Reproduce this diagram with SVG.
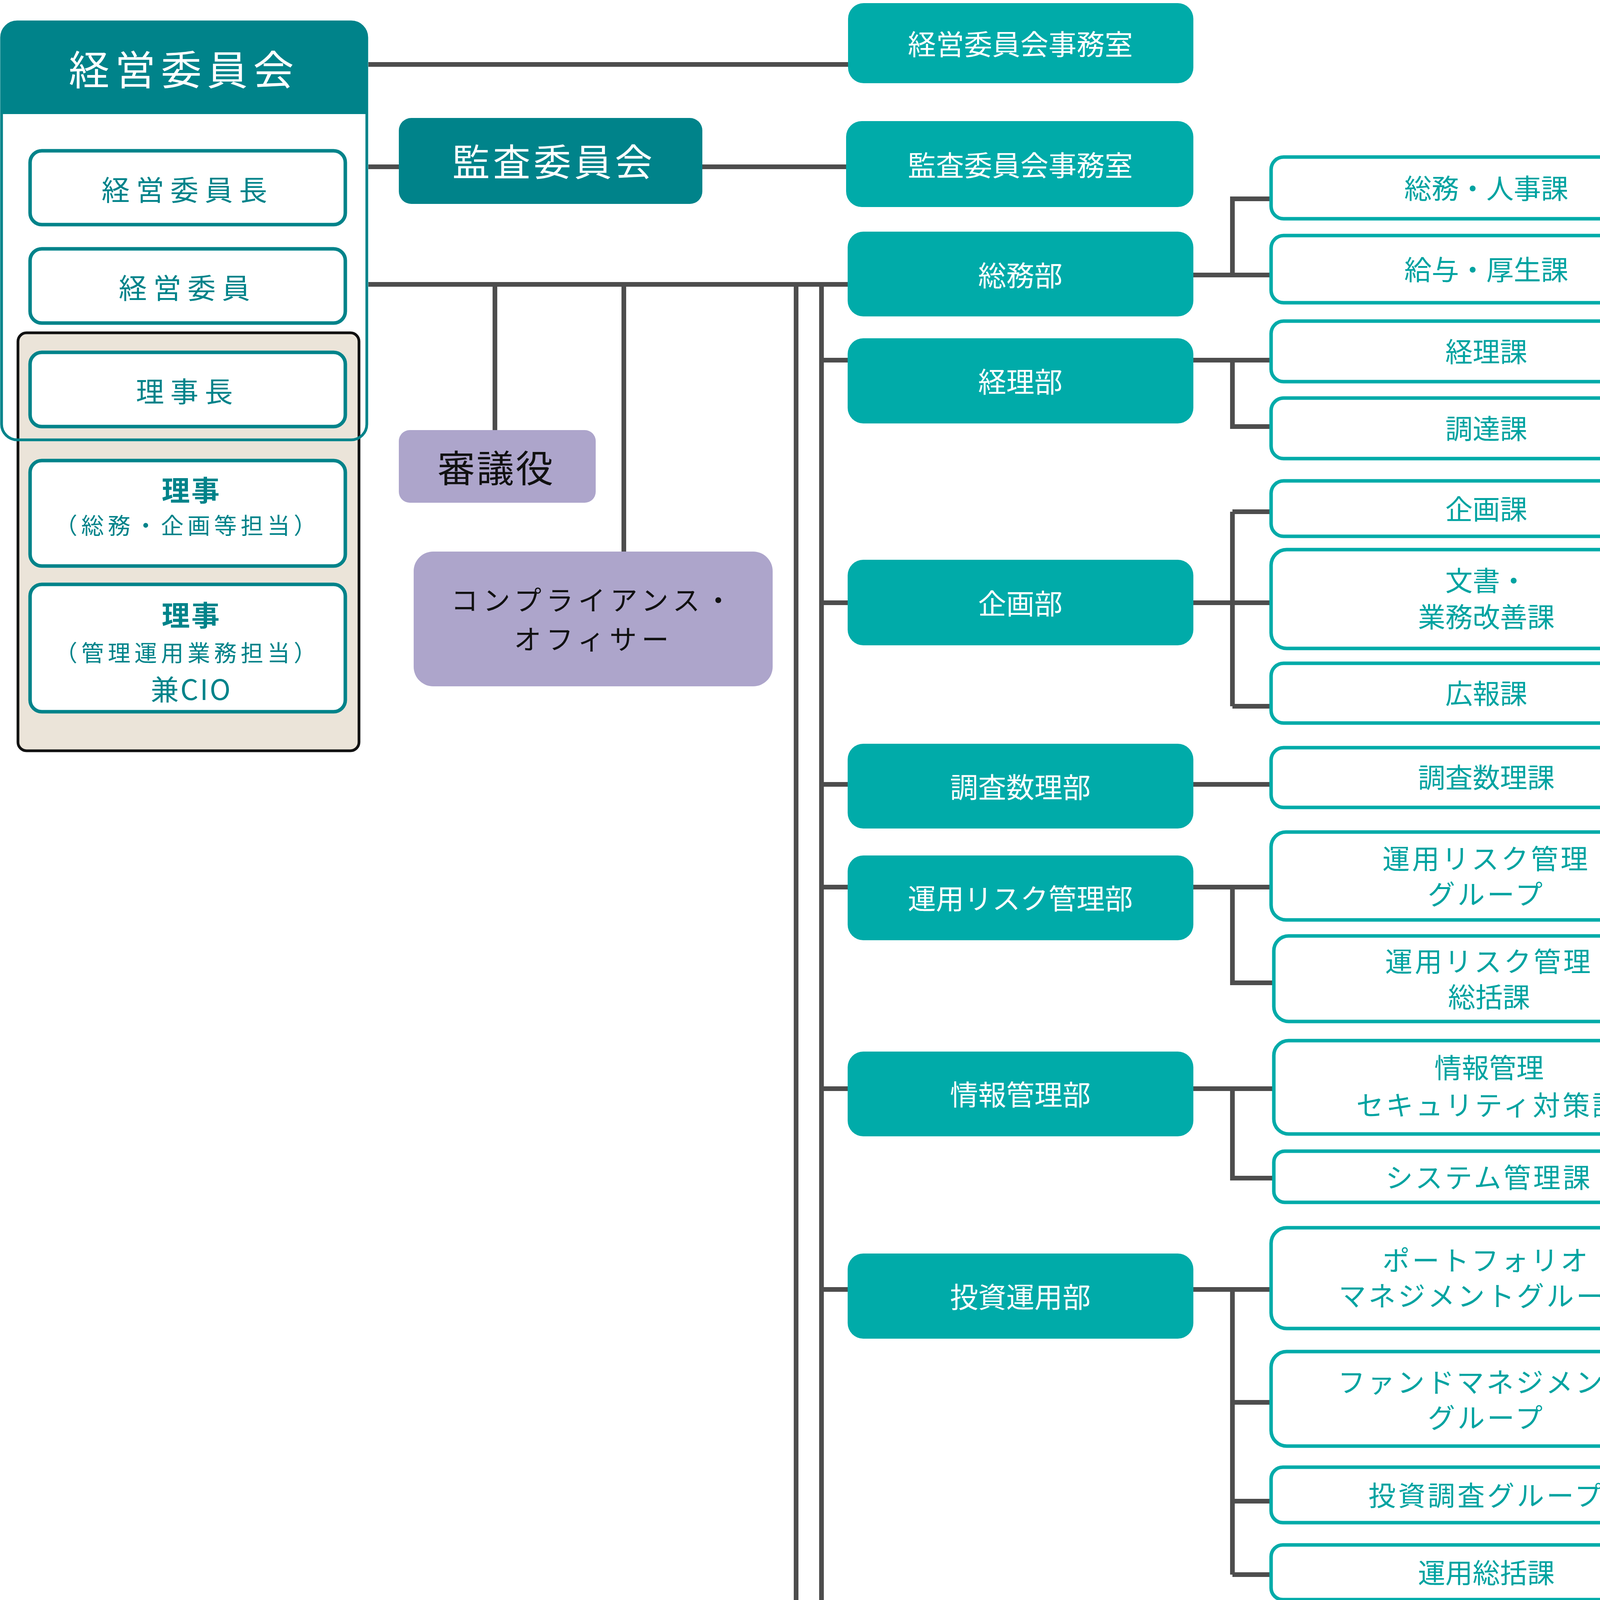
<svg xmlns="http://www.w3.org/2000/svg" width="4368" height="6680" viewBox="0 0 4368 6680">
<style>
text{font-family:"Noto Sans CJK JP","Noto Sans",sans-serif;text-anchor:middle;dominant-baseline:central}
.dept rect{fill:#00ABA9}
.dept text{fill:#fff;font-size:72px}
.sub rect{fill:#fff;stroke:#00ABA9;stroke-width:9}
.sub text{fill:#00A3A1;font-size:70px}
.wm rect{fill:#fff;stroke:#00838A;stroke-width:9}
.wm text{fill:#00838A;font-size:72px;letter-spacing:16px}
.pur rect{fill:#ADA5CB}
.pur text{fill:#111}
.ks{letter-spacing:6px}
</style>
<g id="connectors" fill="none" stroke="#4D4D4D" stroke-width="12">
<path d="M943 165H2171M943 427H1021M1798 427H2166M943 728H2170M1267 728V1101M1597 728V1412M2038 728V6548M2103 728V5898"/>
<path d="M2103 922H2170M2103 1543H2170M2103 2008H2170M2103 2271H2170M2103 2787H2170M2103 3301H2170M2103 4235H2170M2103 4870H2170M2103 5898H2170M2038 6272H2170M2038 6548H2170"/>
<path d="M3055 704H3254M3155 704V509H3254"/>
<path d="M3055 922H3254M3155 922V1092H3254"/>
<path d="M3055 1543H3254M3155 1310V1808M3155 1310H3254M3155 1808H3254"/>
<path d="M3055 2008H3254"/>
<path d="M3055 2271H3254M3155 2271V2516H3261"/>
<path d="M3055 2787H3261M3155 2787V3016H3261"/>
<path d="M3055 3301H3254M3155 3301V4031M3155 3590H3254M3155 3843H3254M3155 4031H3254"/>
<path d="M3055 4235H3254M3155 4235V4528H3254"/>
<path d="M3055 4865H3254M3155 4865V5614M3155 5090H3254M3155 5350H3254M3155 5614H3254"/>
<path d="M3055 5898H3254M3155 5898V6296M3155 6063H3254M3155 6296H3254"/>
</g>
<g id="board">
<rect x="46" y="852" width="873" height="1070" rx="22" fill="#EBE4D9" stroke="#111" stroke-width="7"/>
<rect x="4" y="56" width="935" height="1070" rx="40" fill="none" stroke="#00838A" stroke-width="7"/>
<path d="M4 292V96Q4 56 44 56H899Q939 56 939 96V292Z" fill="#00838A"/>
<text x="471" y="172" fill="#fff" font-size="104" letter-spacing="14">経営委員会</text>
</g>
<g id="n-chair" class="wm"><rect x="77" y="386" width="807" height="189" rx="30"/><text x="480" y="481">経営委員長</text></g>
<g id="n-member" class="wm"><rect x="77" y="637" width="807" height="190" rx="30"/><text x="480" y="732">経営委員</text></g>
<g id="n-president" class="wm"><rect x="77" y="902" width="807" height="190" rx="30"/><text x="480" y="997">理事長</text></g>
<g id="n-director1" class="wm"><rect x="77" y="1179" width="807" height="270" rx="30"/><text x="490" y="1250" font-weight="bold" style="letter-spacing:4px">理事</text><text x="480" y="1342" style="font-size:58px;letter-spacing:10px">（総務・企画等担当）</text></g>
<g id="n-director2" class="wm"><rect x="77" y="1496" width="807" height="326" rx="30"/><text x="490" y="1570" font-weight="bold" style="letter-spacing:4px">理事</text><text x="480" y="1668" style="font-size:58px;letter-spacing:10px">（管理運用業務担当）</text><text x="490" y="1760" style="letter-spacing:4px">兼CIO</text></g>
<g id="n-audit"><rect x="1021" y="302" width="777" height="220" rx="32" fill="#00838A"/><text x="1418" y="408" fill="#fff" font-size="96" letter-spacing="8">監査委員会</text></g>
<g id="n-shingi" class="pur"><rect x="1021" y="1101" width="504" height="186" rx="28"/><text x="1270" y="1192" font-size="96" letter-spacing="4">審議役</text></g>
<g id="n-compliance" class="pur"><rect x="1059" y="1412" width="919" height="345" rx="50"/><text x="1520" y="1532" font-size="70" letter-spacing="12">コンプライアンス・</text><text x="1520" y="1632" font-size="70" letter-spacing="12">オフィサー</text></g>
<g id="d1" class="dept"><rect x="2171" y="8" width="884" height="205" rx="40"/><text x="2612" y="108">経営委員会事務室</text></g>
<g id="d2" class="dept"><rect x="2166" y="310" width="889" height="220" rx="40"/><text x="2612" y="418">監査委員会事務室</text></g>
<g id="d3" class="dept"><rect x="2170" y="593" width="885" height="217" rx="40"/><text x="2612" y="700">総務部</text></g>
<g id="d4" class="dept"><rect x="2170" y="866" width="885" height="218" rx="40"/><text x="2612" y="972">経理部</text></g>
<g id="d5" class="dept"><rect x="2170" y="1433" width="885" height="219" rx="40"/><text x="2612" y="1540">企画部</text></g>
<g id="d6" class="dept"><rect x="2170" y="1904" width="885" height="217" rx="40"/><text x="2612" y="2010">調査数理部</text></g>
<g id="d7" class="dept"><rect x="2170" y="2190" width="885" height="217" rx="40"/><text x="2612" y="2295">運用リスク管理部</text></g>
<g id="d8" class="dept"><rect x="2170" y="2692" width="885" height="217" rx="40"/><text x="2612" y="2797">情報管理部</text></g>
<g id="d9" class="dept"><rect x="2170" y="3209" width="885" height="218" rx="40"/><text x="2612" y="3315">投資運用部</text></g>
<g id="d10" class="dept"><rect x="2170" y="4125" width="885" height="342" rx="50"/><text x="2612" y="4245" class="ks">ESG・スチュワード</text><text x="2612" y="4340">シップ推進部</text></g>
<g id="d11" class="dept"><rect x="2170" y="4722" width="885" height="345" rx="50"/><text x="2612" y="4842" class="ks">オルタナティブ</text><text x="2612" y="4937">投資部</text></g>
<g id="d12" class="dept"><rect x="2170" y="5806" width="885" height="216" rx="40"/><text x="2612" y="5910">運用管理部</text></g>
<g id="d13" class="dept"><rect x="2170" y="6198" width="885" height="217" rx="40"/><text x="2612" y="6303">法務室</text></g>
<g id="d14" class="dept"><rect x="2170" y="6461" width="885" height="219" rx="40"/><text x="2612" y="6565">監査室</text></g>
<g id="s1" class="sub"><rect x="3254" y="402" width="1102" height="158" rx="32"/><text x="3805" y="478">総務・人事課</text></g>
<g id="s2" class="sub"><rect x="3254" y="603" width="1102" height="172" rx="32"/><text x="3805" y="686">給与・厚生課</text></g>
<g id="s3" class="sub"><rect x="3254" y="822" width="1102" height="155" rx="32"/><text x="3805" y="896">経理課</text></g>
<g id="s4" class="sub"><rect x="3254" y="1019" width="1102" height="155" rx="32"/><text x="3805" y="1093">調達課</text></g>
<g id="s5" class="sub"><rect x="3254" y="1231" width="1102" height="142" rx="32"/><text x="3805" y="1299">企画課</text></g>
<g id="s6" class="sub"><rect x="3254" y="1407" width="1102" height="253" rx="40"/><text x="3805" y="1482">文書・</text><text x="3805" y="1575">業務改善課</text></g>
<g id="s7" class="sub"><rect x="3254" y="1698" width="1102" height="153" rx="32"/><text x="3805" y="1771">広報課</text></g>
<g id="s8" class="sub"><rect x="3254" y="1914" width="1102" height="153" rx="32"/><text x="3805" y="1986">調査数理課</text></g>
<g id="s9" class="sub"><rect x="3254" y="2130" width="1102" height="225" rx="38"/><text x="3805" y="2194" class="ks">運用リスク管理</text><text x="3805" y="2285" class="ks">グループ</text></g>
<g id="s10" class="sub"><rect x="3261" y="2396" width="1103" height="219" rx="38"/><text x="3812" y="2457" class="ks">運用リスク管理</text><text x="3812" y="2548">総括課</text></g>
<g id="s11" class="sub"><rect x="3261" y="2664" width="1103" height="239" rx="38"/><text x="3812" y="2729">情報管理</text><text x="3812" y="2825" class="ks">セキュリティ対策課</text></g>
<g id="s12" class="sub"><rect x="3261" y="2947" width="1103" height="131" rx="28"/><text x="3812" y="3010" class="ks">システム管理課</text></g>
<g id="s13" class="sub"><rect x="3254" y="3143" width="1102" height="258" rx="40"/><text x="3805" y="3222" class="ks">ポートフォリオ</text><text x="3805" y="3313" class="ks">マネジメントグループ</text></g>
<g id="s14" class="sub"><rect x="3254" y="3460" width="1102" height="242" rx="40"/><text x="3805" y="3534" class="ks">ファンドマネジメント</text><text x="3805" y="3625" class="ks">グループ</text></g>
<g id="s15" class="sub"><rect x="3254" y="3756" width="1102" height="142" rx="30"/><text x="3805" y="3824" class="ks">投資調査グループ</text></g>
<g id="s16" class="sub"><rect x="3254" y="3955" width="1102" height="140" rx="30"/><text x="3805" y="4022">運用総括課</text></g>
<g id="s17" class="sub"><rect x="3254" y="4146" width="1102" height="234" rx="38"/><text x="3805" y="4218" class="ks">ESG・スチュワード</text><text x="3805" y="4308" class="ks">シップ推進グループ</text></g>
<g id="s18" class="sub"><rect x="3254" y="4429" width="1102" height="219" rx="38"/><text x="3805" y="4494" class="ks">ESG・スチュワード</text><text x="3805" y="4584" class="ks">シップ総括課</text></g>
<g id="s19" class="sub"><rect x="3254" y="4697" width="1102" height="247" rx="40"/><text x="3805" y="4772" class="ks">インフラストラクチャー</text><text x="3805" y="4864" class="ks">投資グループ</text></g>
<g id="s20" class="sub"><rect x="3254" y="5005" width="1102" height="148" rx="30"/><text x="3805" y="5078" class="ks">不動産投資グループ</text></g>
<g id="s21" class="sub"><rect x="3254" y="5219" width="1102" height="230" rx="38"/><text x="3805" y="5288" class="ks">プライベートエクイティ</text><text x="3805" y="5378" class="ks">投資グループ</text></g>
<g id="s22" class="sub"><rect x="3254" y="5512" width="1102" height="222" rx="38"/><text x="3805" y="5577" class="ks">オルタナティブ</text><text x="3805" y="5668">投資総括課</text></g>
<g id="s23" class="sub"><rect x="3254" y="5795" width="1102" height="131" rx="28"/><text x="3805" y="5860">資産管理課</text></g>
<g id="s24" class="sub"><rect x="3254" y="5989" width="1102" height="131" rx="28"/><text x="3805" y="6054">資金業務課</text></g>
<g id="s25" class="sub"><rect x="3254" y="6193" width="1102" height="150" rx="30"/><text x="3805" y="6268">運用管理総括課</text></g>
</svg>
